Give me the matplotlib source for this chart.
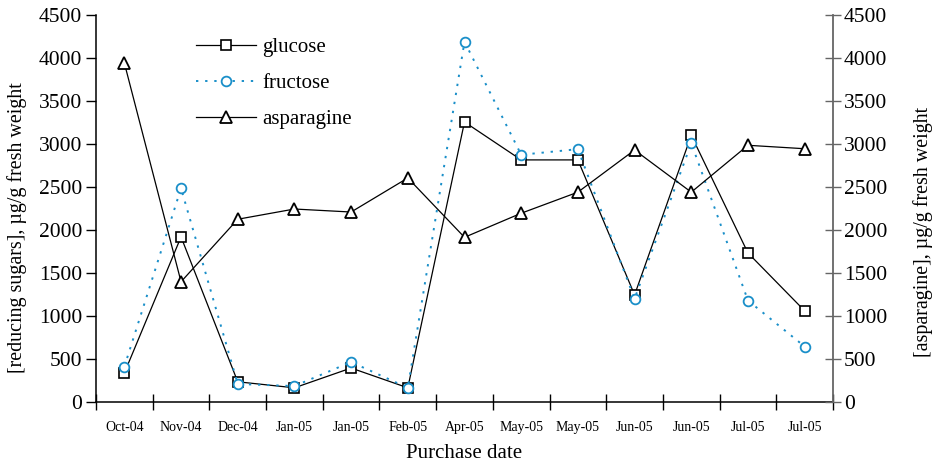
import numpy as np
import matplotlib.pyplot as plt
from matplotlib.ticker import FixedLocator, NullFormatter

plt.rcParams['font.family'] = ['Liberation Serif', 'DejaVu Serif']

dates = ["Oct-04", "Nov-04", "Dec-04", "Jan-05", "Jan-05", "Feb-05", "Apr-05",
         "May-05", "May-05", "Jun-05", "Jun-05", "Jul-05", "Jul-05"]
glucose = [337, 1920, 235, 165, 395, 165, 3256, 2815, 2815, 1245, 3100, 1733, 1060]
fructose = [410, 2485, 210, 185, 465, 165, 4190, 2875, 2940, 1200, 3010, 1180, 645]
asparagine = [3942, 1398, 2125, 2244, 2209, 2605, 1915, 2195, 2440, 2930, 2440, 2985, 2945]

blue = "#1a8fc9"
x = np.arange(len(dates))

fig = plt.figure(figsize=(9.36, 4.63), dpi=100)
ax = fig.add_axes([96/936, 61/463, 737/936, 387/463])
ax2 = ax.twinx()

l1, = ax.plot(x, glucose, color="black", lw=0.9, marker="s", ms=7.5,
              mfc="white", mec="black", mew=1.2, label="glucose")
l2, = ax.plot(x, fructose, color=blue, lw=1.4, ls=(0, (1.2, 3.5)), marker="o", ms=7,
              mfc="white", mec=blue, mew=1.3, label="fructose")
l3, = ax2.plot(x, asparagine, color="black", lw=0.9, marker="^", ms=9,
               mfc="white", mec="black", mew=1.3, label="asparagine")

for a in (ax, ax2):
    a.set_ylim(0, 4500)
    a.set_xlim(-0.5, len(dates) - 0.5)
    a.set_yticks(np.arange(0, 4501, 500))
    a.spines['top'].set_visible(False)

ax.spines['right'].set_visible(False)
ax2.spines['left'].set_visible(False)
ax2.spines['bottom'].set_visible(False)
ax2.spines['right'].set_color("#666666")
ax2.spines['right'].set_linewidth(1.3)
ax.spines['left'].set_linewidth(1.1)
ax.spines['bottom'].set_linewidth(1.1)

ax.xaxis.set_major_locator(FixedLocator(np.arange(-0.5, len(dates), 1.0)))
ax.xaxis.set_major_formatter(NullFormatter())
ax.xaxis.set_minor_locator(FixedLocator(x))
ax.set_xticklabels(dates, minor=True, fontsize=10)
ax.tick_params(axis='x', which='major', direction='inout', length=12, width=1)
ax.tick_params(axis='x', which='minor', length=0, pad=14)
ax.tick_params(axis='y', direction='out', length=7, width=1, labelsize=15.5, pad=3)
ax2.tick_params(axis='y', direction='inout', length=12, width=1, color="#666666",
                labelsize=15.5, pad=2)

ax.set_xlabel("Purchase date", fontsize=15, labelpad=7)
ax.set_ylabel("[reducing sugars], \u00b5g/g fresh weight", fontsize=14.4)
ax.yaxis.set_label_coords(-0.094, 0.45)
ax2.set_ylabel("[asparagine], \u00b5g/g fresh weight", fontsize=14.4)
ax2.yaxis.set_label_coords(1.108, 0.44)

ax2.legend([l1, l2, l3], ["glucose", "fructose", "asparagine"], loc="upper left",
           bbox_to_anchor=(0.11, 0.99), frameon=False, fontsize=15,
           handlelength=2.9, labelspacing=0.78, handletextpad=0.3)

fig.savefig("out.png", dpi=100)
